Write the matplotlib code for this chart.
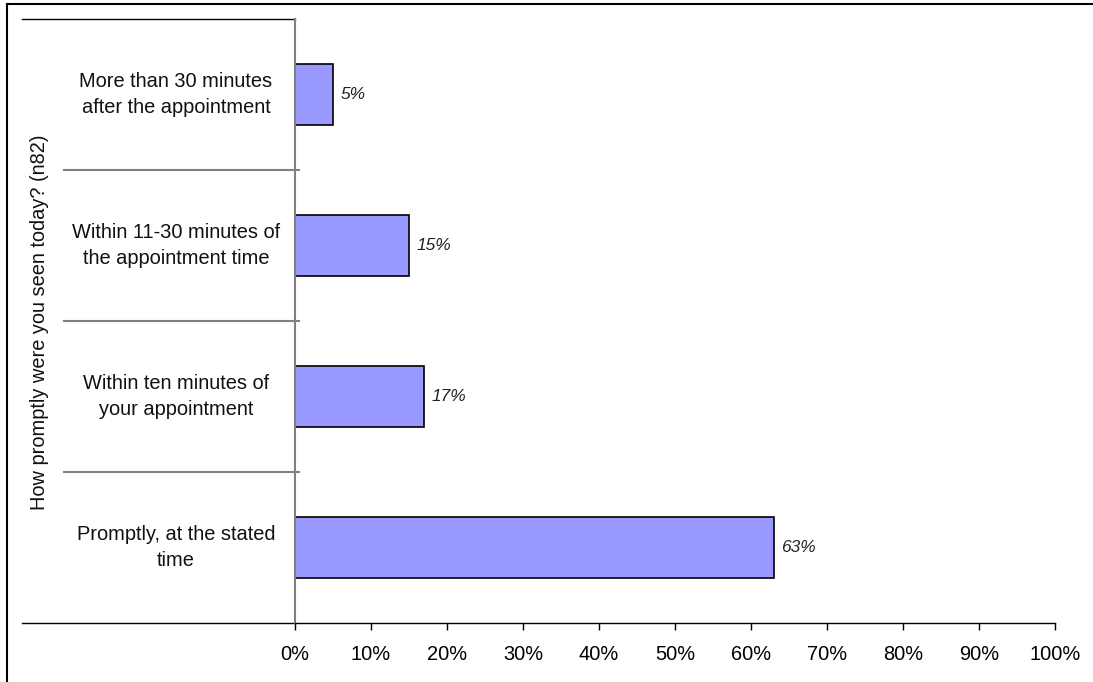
import matplotlib.pyplot as plt
import matplotlib.transforms as mtransforms
from matplotlib.lines import Line2D

plt.rcParams['font.family'] = ['Liberation Sans', 'DejaVu Sans']

# bottom to top
categories = ['Promptly, at the stated\ntime',
              'Within ten minutes of\nyour appointment',
              'Within 11-30 minutes of\nthe appointment time',
              'More than 30 minutes\nafter the appointment']
values = [63, 17, 15, 5]
xticks = [0, 10, 20, 30, 40, 50, 60, 70, 80, 90, 100]
ylabel = 'How promptly were you seen today? (n82)'

W, H = 1093, 682
fig = plt.figure(figsize=(W / 100, H / 100), dpi=100)

def fx(px):
    return px / W

def fy(py):
    return 1 - py / H

FS = 14.4

# plot area
ax = fig.add_axes([fx(295), fy(623), fx(1055) - fx(295), fy(19) - fy(623)])
ypos = list(range(len(categories)))
ax.barh(ypos, values, height=0.4, color='#9999FF', edgecolor='black', linewidth=1.2)

for y, v in zip(ypos, values):
    ax.text(v + 1.0, y, '%d%%' % v, ha='left', va='center',
            fontsize=12.5, style='italic', color='#222222')

ax.set_xlim(0, 100)
ax.set_ylim(-0.5, len(categories) - 0.5)
ax.set_xticks(xticks)
ax.set_xticklabels(['%d%%' % t for t in xticks], fontsize=FS)
ax.tick_params(axis='x', direction='out', length=5, width=1, pad=11, color='black')
ax.set_yticks([])

for side in ['top', 'right']:
    ax.spines[side].set_visible(False)
ax.spines['left'].set_color('#808080')
ax.spines['left'].set_linewidth(1.5)
ax.spines['bottom'].set_color('black')
ax.spines['bottom'].set_linewidth(1)

# category labels and separators on the left of the axis
trans = mtransforms.blended_transform_factory(ax.transAxes, ax.transData)
left_sep = (fx(64) - fx(295)) / (fx(1055) - fx(295))
left_edge = (fx(22) - fx(295)) / (fx(1055) - fx(295))
lab_x = (fx(176) - fx(295)) / (fx(1055) - fx(295))
tick_r = 4 / 760

for y, name in zip(ypos, categories):
    ax.text(lab_x, y, name, transform=trans, ha='center', va='center',
            multialignment='center', fontsize=FS, color='#111111',
            linespacing=1.5)

for i in range(len(categories) - 1):
    ax.plot([left_sep, tick_r], [i + 0.5, i + 0.5], transform=trans,
            color='#808080', lw=1.5, clip_on=False)

top = len(categories) - 0.5
bottom = -0.5
ax.plot([left_edge, 0], [top, top], transform=trans, color='black', lw=1, clip_on=False)
ax.plot([left_edge, 0], [bottom, bottom], transform=trans, color='black', lw=1, clip_on=False)

fig.text(fx(40), fy(322), ylabel, rotation=90, ha='center', va='center',
         fontsize=FS, color='#111111')

# outer frame (top and left edges)
fig.add_artist(Line2D([fx(7), 1.0], [fy(4), fy(4)], transform=fig.transFigure,
                      color='black', lw=1.5))
fig.add_artist(Line2D([fx(7), fx(7)], [fy(4), 0.0], transform=fig.transFigure,
                      color='black', lw=1.5))

fig.savefig('out.png', dpi=100)
